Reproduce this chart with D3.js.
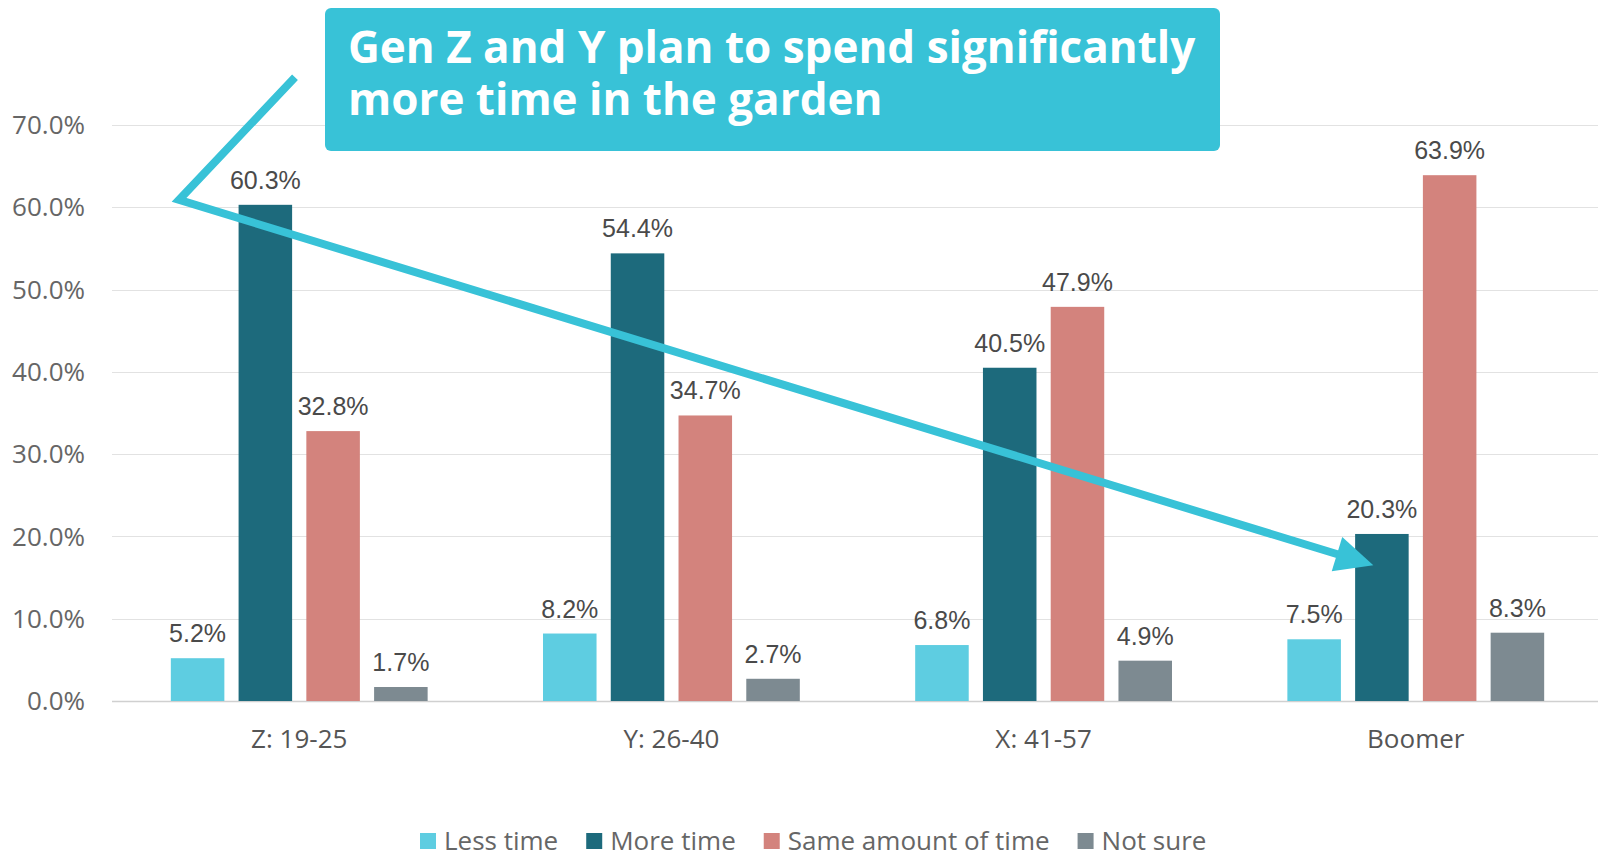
<!DOCTYPE html>
<html>
<head>
<meta charset="utf-8">
<script src="https://cdn.jsdelivr.net/npm/d3@7"></script>
<style>
  html, body { margin: 0; padding: 0; background: #fff; }
  svg { display: block; }
</style>
</head>
<body>
<svg id="chart" width="1598" height="858"></svg>
<script>
const categories = ['Z: 19-25', 'Y: 26-40', 'X: 41-57', 'Boomer'];
const seriesNames = ['Less time', 'More time', 'Same amount of time', 'Not sure'];
const lessTime = [5.2, 8.2, 6.8, 7.5];
const moreTime = [60.3, 54.4, 40.5, 20.3];
const sameTime = [32.8, 34.7, 47.9, 63.9];
const notSure = [1.7, 2.7, 4.9, 8.3];
const yTicks = [0, 10, 20, 30, 40, 50, 60, 70];
const colors = ['#5ecde1', '#1d6a7c', '#d3837d', '#7d8a91'];
const noteLines = ['Gen Z and Y plan to spend significantly', 'more time in the garden'];

const seriesValues = [lessTime, moreTime, sameTime, notSure];

const svg = d3.select('#chart');
const width = 1598;

const margin = { left: 112, top: 125, bottom: 701 };

const x0 = d3.scaleBand()
  .domain(categories)
  .range([115, 1600])
  .paddingInner(0.31)
  .paddingOuter(0.15);

const x1 = d3.scaleBand()
  .domain(seriesNames)
  .range([0, x0.bandwidth()])
  .paddingInner(0.21)
  .paddingOuter(0);

const y = d3.scaleLinear()
  .domain([0, 70])
  .range([margin.bottom, margin.top]);

// grid
svg.append('g')
  .attr('class', 'grid')
  .selectAll('line')
  .data(yTicks)
  .enter()
  .append('line')
  .attr('x1', margin.left)
  .attr('x2', width)
  .attr('y1', d => Math.round(y(d)) + 0.5)
  .attr('y2', d => Math.round(y(d)) + 0.5)
  .style('stroke', d => d === 0 ? '#d0d0d0' : '#e2e2e2')
  .style('stroke-width', d => d === 0 ? 1.5 : 1.2);

// y labels
svg.append('g')
  .selectAll('text')
  .data(yTicks)
  .enter()
  .append('text')
  .attr('x', 85)
  .attr('y', d => y(d))
  .attr('dy', '0.35em')
  .attr('text-anchor', 'end')
  .style('font-family', '"Open Sans", sans-serif')
  .style('font-size', '26px')
  .style('fill', '#666')
  .text(d => d.toFixed(1) + '%');

// bars
const groups = svg.append('g')
  .selectAll('g')
  .data(categories)
  .enter()
  .append('g')
  .attr('transform', d => `translate(${x0(d)}, 0)`);

const cells = groups.selectAll('g')
  .data((c, ci) => seriesNames.map((s, si) => ({ s, si, v: seriesValues[si][ci] })))
  .enter()
  .append('g');

cells.append('rect')
  .attr('x', d => x1(d.s))
  .attr('width', x1.bandwidth())
  .attr('y', d => y(d.v))
  .attr('height', d => y(0) - y(d.v))
  .attr('fill', d => colors[d.si]);

cells.append('text')
  .attr('x', d => x1(d.s) + x1.bandwidth() / 2)
  .attr('y', d => y(d.v) - 16)
  .attr('text-anchor', 'middle')
  .style('font-family', '"Liberation Sans", Arial, sans-serif')
  .style('font-size', '25px')
  .style('fill', '#4a4a4a')
  .text(d => d.v.toFixed(1) + '%');

// x labels
svg.append('g')
  .selectAll('text')
  .data(categories)
  .enter()
  .append('text')
  .attr('x', d => x0(d) + x0.bandwidth() / 2)
  .attr('y', 748)
  .attr('text-anchor', 'middle')
  .style('font-family', '"Open Sans", sans-serif')
  .style('font-size', '26px')
  .style('fill', '#555')
  .text(d => d);

// legend
const legend = svg.append('g').attr('transform', 'translate(420, 841)');
let lx = 0;
seriesNames.forEach((s, i) => {
  const g = legend.append('g').attr('transform', `translate(${lx}, 0)`);
  g.append('rect')
    .attr('x', 0)
    .attr('y', -8)
    .attr('width', 16)
    .attr('height', 16)
    .attr('fill', colors[i]);
  const t = g.append('text')
    .attr('x', 24)
    .attr('y', 0)
    .attr('dy', '0.36em')
    .style('font-family', '"Open Sans", sans-serif')
    .style('font-size', '26px')
    .style('fill', '#666')
    .text(s);
  lx += 24 + t.node().getComputedTextLength() + 28;
});

// annotation arrow
const accent = '#38c2d7';
const tipX = x0('Boomer') + x1('More time') + x1.bandwidth() * 0.34;
const tipY = y(16.5);
const corner = [margin.left + 67, y(60.9)];
const start = [margin.left + 183, y(75.8)];
const ang = Math.atan2(tipY - corner[1], tipX - corner[0]);
const headLen = 38;
const headW = 18;
const bx = tipX - Math.cos(ang) * headLen;
const by = tipY - Math.sin(ang) * headLen;

svg.append('path')
  .attr('d', d3.line()([start, corner, [bx + Math.cos(ang) * 4, by + Math.sin(ang) * 4]]))
  .style('fill', 'none')
  .style('stroke', accent)
  .style('stroke-width', '8px')
  .style('stroke-linejoin', 'miter');

svg.append('path')
  .attr('d', d3.line()([
    [tipX, tipY],
    [bx - Math.sin(ang) * headW, by + Math.cos(ang) * headW],
    [bx + Math.sin(ang) * headW, by - Math.cos(ang) * headW]
  ]) + 'Z')
  .style('fill', accent);

// annotation box
const note = svg.append('g');
note.append('rect')
  .attr('x', 325)
  .attr('y', 8)
  .attr('width', 895)
  .attr('height', 143)
  .attr('rx', 6)
  .attr('fill', accent);

note.selectAll('text')
  .data(noteLines)
  .enter()
  .append('text')
  .attr('x', 348)
  .attr('y', (d, i) => 63 + i * 52)
  .style('font-family', '"Open Sans", sans-serif')
  .style('font-weight', 'bold')
  .style('font-size', '44px')
  .style('fill', '#fff')
  .text(d => d);
</script>
</body>
</html>
